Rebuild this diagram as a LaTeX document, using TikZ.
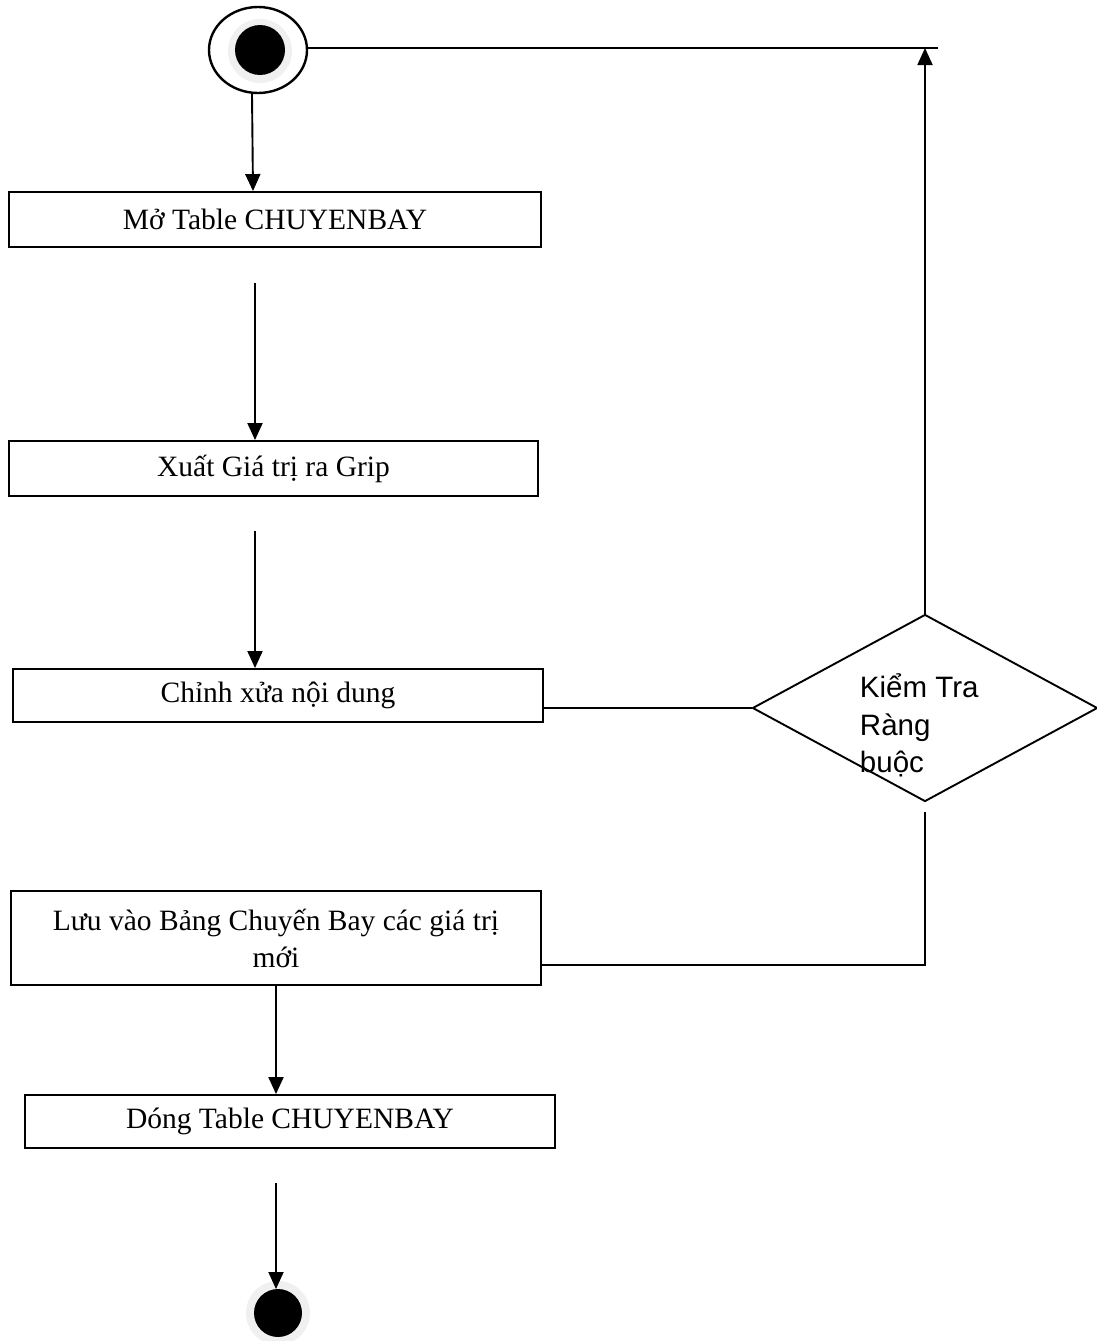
\documentclass[tikz,border=0pt]{standalone}
\usepackage{fontspec}
\setmainfont{Liberation Serif}
\newfontfamily\diafont{Liberation Sans}
\usetikzlibrary{arrows.meta,shapes.geometric}
\begin{document}
\begin{tikzpicture}[x=1pt,y=-1pt,
  line width=1.9pt,
  act/.style={draw, rectangle, inner sep=0pt, align=center,
    font=\fontsize{29.5}{37}\selectfont},
  flow/.style={-{Triangle[width=15pt,length=17pt]}}
]
\useasboundingbox (0,0) rectangle (1097,1341);

% start state
\node[draw, line width=2.4pt, ellipse, minimum width=98pt, minimum height=86pt, inner sep=0pt] (start) at (258,50) {};
\fill[gray!12] (260,51) circle (32);
\fill[black] (260,50) circle (25);

% activities
\node[act, minimum width=532pt, minimum height=55pt] (open) at (275,219.5) {\raisebox{-3pt}{Mở Table CHUYENBAY}};
\node[act, minimum width=529pt, minimum height=55pt] (show) at (273.5,468.5) {\raisebox{-3pt}{Xuất Giá trị ra Grip}};
\node[act, minimum width=530pt, minimum height=53pt] (edit) at (278,695.5) {\raisebox{-2pt}{Chỉnh xửa nội dung}};
\node[act, minimum width=530pt, minimum height=94pt] (save) at (276,938) {Lưu vào Bảng Chuyến Bay các giá trị\\mới};
\node[act, minimum width=530pt, minimum height=53pt] (close) at (290,1121.5) {\raisebox{-2pt}{Dóng Table CHUYENBAY}};

% decision
\node[draw, diamond, minimum width=345pt, minimum height=187pt, inner sep=0pt] (check) at (925,708) {};
\node[anchor=north west, inner sep=0pt, align=left, font=\diafont\fontsize{29.5}{37.5}\selectfont] (checktxt) at (859,673) {Kiểm Tra\\Ràng\\buộc};

% end state
\fill[gray!12] (278,1313) circle (32);
\fill[black] (278,1313) circle (24);
\coordinate (finish) at (278,1289);

% free ends of the connectors
\coordinate (a1) at (255,283);
\coordinate (a2) at (255,531);
\coordinate (a3) at (276,1183);
\coordinate (topright) at (938,48);
\coordinate (below) at (925,812);
\coordinate (corner) at (925,965);

% connectors
\draw[flow] (start.south -| 252,0) -- (open.north -| 253,0);
\draw[flow] (a1) -- (show.north -| a1);
\draw[flow] (a2) -- (edit.north -| a2);
\draw[flow] (save.south -| 276,0) -- (close.north -| 276,0);
\draw[flow] (a3) -- (a3 |- finish);
\draw (start.east |- topright) -- (topright);
\draw (edit.east |- check.west) -- (check.west);
\draw[flow] (check.north) -- (check.north |- topright);
\draw (below) -- (corner) -- (save.east |- corner);
\end{tikzpicture}
\end{document}
